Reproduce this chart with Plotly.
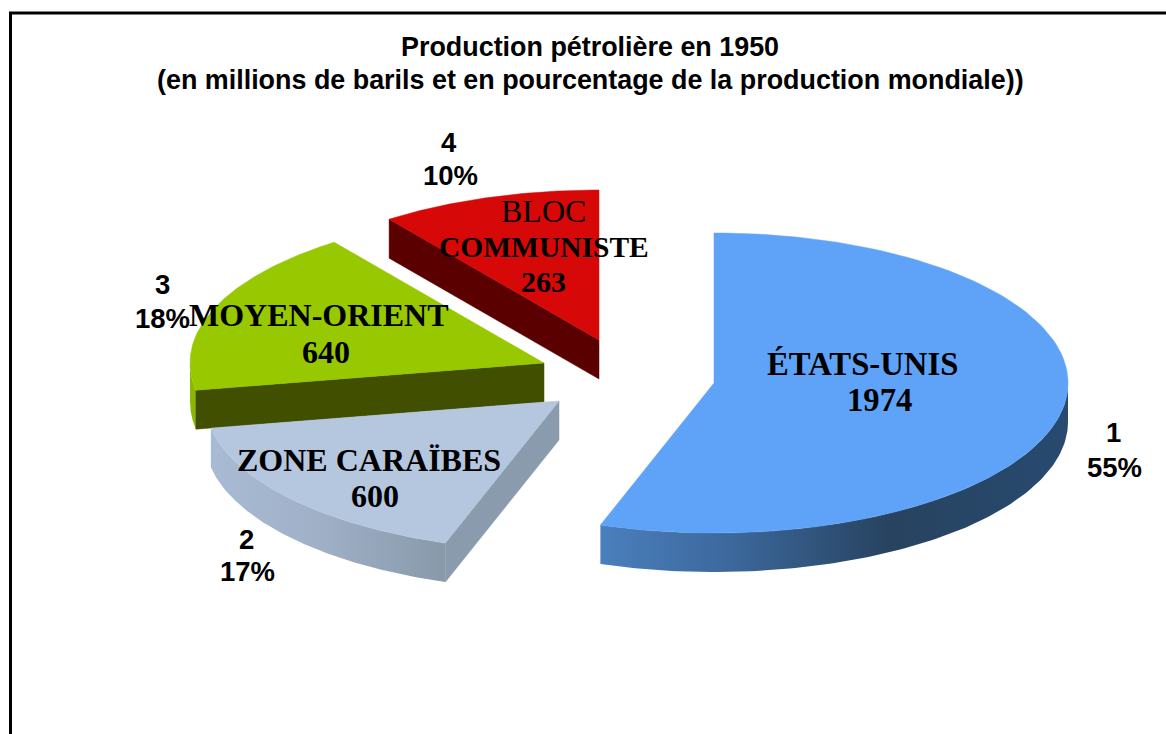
import numpy as np
import plotly.graph_objects as go

# ---- data ----
regions = ["ÉTATS-UNIS", "ZONE CARAÏBES", "MOYEN-ORIENT", "BLOC COMMUNISTE"]
barrels = [1974, 600, 640, 263]
ranks = [1, 2, 3, 4]
shares = [55.2, 16.9, 17.8, 10.1]   # slice sizes as drawn; labels show them rounded
title_lines = ["Production pétrolière en 1950",
               "(en millions de barils et en pourcentage de la production mondiale))"]

# ---- styling / layout ----
RX, RY, DEPTH = 354, 150, 39
apex = [(714, 383), (559, 401), (544, 363), (599, 340)]
top_col = ["#5fa3f8", "#b4c7df", "#97c800", "#d60808"]
cut_col = [None, "#8a9bad", "#415000", "#5a0000"]
wall_scale = [
    [[0, "#4a7fbd"], [0.28, "#3c689c"], [0.62, "#27435f"], [1, "#284a70"]],
    [[0, "#a9bbd4"], [0.5, "#9eafc6"], [1, "#8899aa"]],
    [[0, "#8db800"], [1, "#8db800"]],
    None,
]


def arc(a, t0, t1, n=120, dy=0):
    t = np.radians(np.linspace(t0, t1, n))
    return a[0] + RX * np.sin(t), a[1] - RY * np.cos(t) + dy


fig = go.Figure()
common = dict(mode="lines", hoverinfo="skip", showlegend=False, fill="toself")

edges = np.cumsum([0] + shares) / sum(shares) * 360
for i in [3, 2, 1, 0]:
    a, t0, t1 = apex[i], edges[i], edges[i + 1]
    # outer curved wall (front half only)
    w0, w1 = max(t0, 90), min(t1, 270)
    if w1 > w0 and wall_scale[i]:
        xa, ya = arc(a, w0, w1)
        xb, yb = arc(a, w1, w0, dy=DEPTH)
        fig.add_trace(go.Scatter(
            x=np.r_[xa, xb, xa[0]], y=np.r_[ya, yb, ya[0]],
            line=dict(width=0, color=wall_scale[i][0][1]),
            fillgradient=dict(type="horizontal", colorscale=wall_scale[i]),
            **common))
    # cut face along the starting edge
    if t0 > 0:
        ex, ey = arc(a, t0, t0, n=1)
        fig.add_trace(go.Scatter(
            x=[a[0], ex[0], ex[0], a[0], a[0]],
            y=[a[1], ey[0], ey[0] + DEPTH, a[1] + DEPTH, a[1]],
            line=dict(width=0.5, color=cut_col[i]), fillcolor=cut_col[i], **common))
    # top face
    xa, ya = arc(a, t0, t1)
    fig.add_trace(go.Scatter(
        x=np.r_[a[0], xa, a[0]], y=np.r_[a[1], ya, a[1]],
        line=dict(width=0.5, color=top_col[i]), fillcolor=top_col[i], **common))

SERIF = "Liberation Serif"
SANS = "Liberation Sans"


def text(s, x, y, size, family, bold=True):
    fig.add_annotation(x=x, y=y, xref="x", yref="y", showarrow=False,
                       text=f"<b>{s}</b>" if bold else s,
                       font=dict(family=family, size=size, color="#000000"),
                       xanchor="center", yanchor="middle")


text(title_lines[0], 590, 47, 26.9, SANS)
text(title_lines[1], 590, 80, 26.9, SANS)

# rank + percentage labels
rank_pos = [((1113, 432), (1114, 467)), ((246, 539), (247, 571)),
            ((162, 284), (162, 318)), ((449, 142), (450, 175))]
for r, s, (p1, p2) in zip(ranks, shares, rank_pos):
    text(str(r), p1[0], p1[1], 27.5, SANS)
    text(f"{round(s)}%", p2[0], p2[1], 27.5, SANS)

# region + barrels labels
text(regions[0], 862, 364, 32.7, SERIF)
text(str(barrels[0]), 879, 400, 32.7, SERIF)
text(regions[1], 369, 460, 32, SERIF)
text(str(barrels[1]), 375, 496, 32, SERIF)
text(regions[2], 319, 315, 32, SERIF)
text(str(barrels[2]), 326, 352, 32, SERIF)
bloc, comm = regions[3].split(" ")
text(bloc, 543, 211, 32, SERIF, bold=False)
text(comm, 544, 247, 29.5, SERIF)
text(str(barrels[3]), 543, 281, 30, SERIF)

# chart frame
fig.add_shape(type="path", xref="x", yref="y",
              path="M 10.5 745 L 10.5 13 L 1175 13",
              line=dict(color="#000000", width=3))

fig.update_layout(
    width=1166, height=734, margin=dict(l=0, r=0, t=0, b=0),
    paper_bgcolor="white", plot_bgcolor="white", showlegend=False,
    xaxis=dict(range=[0, 1166], visible=False, fixedrange=True),
    yaxis=dict(range=[734, 0], visible=False, fixedrange=True),
)
fig.write_html("out.html", config=dict(displayModeBar=False),
               post_script="document.body.style.margin='0';"
                           "document.documentElement.style.overflow='hidden';")
